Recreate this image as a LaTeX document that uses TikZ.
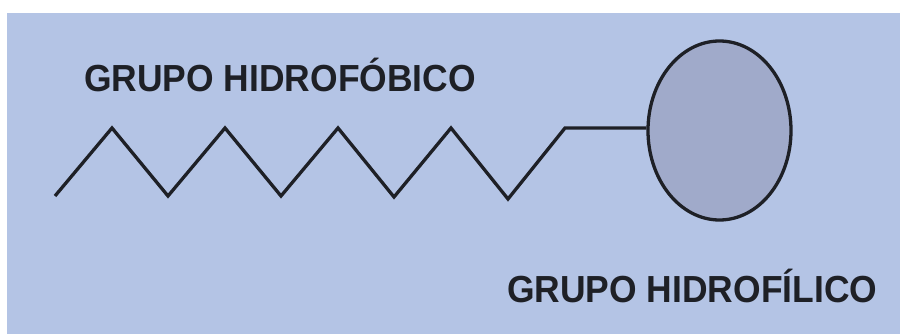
\documentclass[tikz,border=0pt]{standalone}
\usepackage{fontspec}
\setmainfont{Liberation Sans}
\usetikzlibrary{shapes.geometric}
\definecolor{bgblue}{RGB}{180,196,229}
\definecolor{headfill}{RGB}{160,170,202}
\definecolor{inkc}{RGB}{30,32,38}
\tikzset{
  chain/.style={draw=inkc, line width=3.3pt, line join=miter},
  lbl/.style={anchor=base west, inner sep=0pt, text=inkc, font=\fontsize{37.7}{40}\selectfont\bfseries, xscale=0.94, transform shape},
  headball/.style={ellipse, draw=inkc, line width=3.3pt, fill=headfill, minimum width=143pt, minimum height=179pt, inner sep=0pt}
}
\begin{document}
\begin{tikzpicture}[x=1pt,y=-1pt]
\useasboundingbox (0,0) rectangle (900,334);
\fill[white] (0,0) rectangle (900,334);
\fill[bgblue] (7,13) rectangle (900,334);
\node[headball] (head) at (719.5,130.5) {};
\coordinate (c0) at (55,196);
\coordinate (c1) at (112,128);
\coordinate (c2) at (168,196);
\coordinate (c3) at (225,128);
\coordinate (c4) at (281,196);
\coordinate (c5) at (338,128);
\coordinate (c6) at (394,197);
\coordinate (c7) at (451,128);
\coordinate (c8) at (508,199);
\coordinate (c9) at (565,128);
\draw[chain] (c0) -- (c1) -- (c2) -- (c3) -- (c4) -- (c5) -- (c6) -- (c7) -- (c8) -- (c9) -- (c9 -| head.west);
\node[lbl] (phob) at (84,92) {GRUPO HIDROFÓBICO};
\node[lbl] (phil) at (507,302) {GRUPO HIDROFÍLICO};
\end{tikzpicture}
\end{document}
